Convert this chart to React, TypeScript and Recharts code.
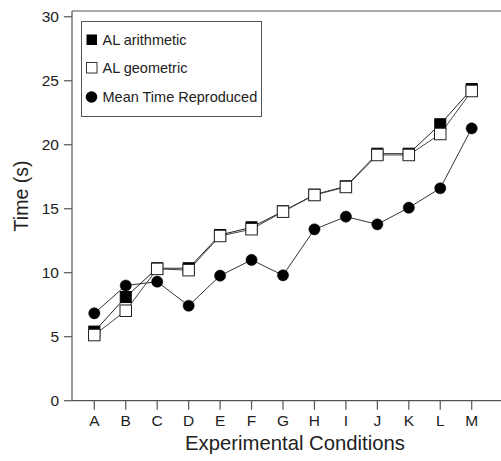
import React from 'react';
import { LineChart, Line, XAxis, YAxis, Legend, ReferenceLine } from 'recharts';

const categories = ['A', 'B', 'C', 'D', 'E', 'F', 'G', 'H', 'I', 'J', 'K', 'L', 'M'];
const alArithmetic = [5.4, 8.1, 10.35, 10.35, 12.95, 13.55, 14.8, 16.1, 16.75, 19.3, 19.3, 21.6, 24.35];
const alGeometric = [5.13, 7.03, 10.3, 10.2, 12.87, 13.4, 14.77, 16.07, 16.7, 19.2, 19.2, 20.84, 24.2];
const meanReproduced = [6.83, 9.0, 9.3, 7.42, 9.77, 11.0, 9.8, 13.39, 14.38, 13.78, 15.08, 16.6, 21.28];
const yTicks = [0, 5, 10, 15, 20, 25, 30];
const Y_MAX = 30.45;

const NAME_ARITH = 'AL arithmetic';
const NAME_GEOM = 'AL geometric';
const NAME_MEAN = 'Mean Time Reproduced';

const data = categories.map((c, i) => ({
  cat: c,
  arith: alArithmetic[i],
  geom: alGeometric[i],
  mean: meanReproduced[i],
}));

const FONT = '"Liberation Sans", Arial, sans-serif';
const AXIS = '#555';
const TEXT = '#222';

const BlackSquare = (props: any) => {
  const { cx, cy, index } = props;
  if (cx == null || cy == null) return null;
  const s = 11;
  return <rect key={`a${index}`} x={cx - s / 2} y={cy - s / 2} width={s} height={s} fill="#000" stroke="#000" strokeWidth={1} />;
};

const WhiteSquare = (props: any) => {
  const { cx, cy, index } = props;
  if (cx == null || cy == null) return null;
  const s = 11.5;
  return <rect key={`g${index}`} x={cx - s / 2} y={cy - s / 2} width={s} height={s} fill="#fff" stroke="#222" strokeWidth={1} />;
};

const BlackCircle = (props: any) => {
  const { cx, cy, index } = props;
  if (cx == null || cy == null) return null;
  return <circle key={`m${index}`} cx={cx} cy={cy} r={5.6} fill="#000" stroke="#000" strokeWidth={0.5} />;
};

const legendRows = [
  { name: NAME_ARITH, kind: 'bsq' },
  { name: NAME_GEOM, kind: 'wsq' },
  { name: NAME_MEAN, kind: 'circ' },
];

const LegendBox = () => (
  <div
    style={{
      position: 'absolute',
      left: 81,
      top: 21,
      width: 181,
      height: 96,
      border: '1px solid #555',
      boxSizing: 'border-box',
      background: '#fff',
      fontFamily: FONT,
      fontSize: 14.5,
      color: TEXT,
    }}
  >
    {legendRows.map((r, i) => (
      <div
        key={r.name}
        style={{
          position: 'absolute',
          left: 0,
          top: [17.7, 46, 74.8][i] - 10,
          height: 20,
          display: 'flex',
          alignItems: 'center',
          whiteSpace: 'nowrap',
        }}
      >
        <svg width={20} height={20} style={{ marginLeft: 0, display: 'block' }}>
          {r.kind === 'bsq' && <rect x={4.5} y={4.5} width={10.5} height={10.5} fill="#000" />}
          {r.kind === 'wsq' && <rect x={4.5} y={4.5} width={10.5} height={10.5} fill="#fff" stroke="#333" strokeWidth={1} />}
          {r.kind === 'circ' && <circle cx={9.5} cy={10} r={5.8} fill="#000" />}
        </svg>
        <span style={{ marginLeft: 0.5 }}>{r.name}</span>
      </div>
    ))}
  </div>
);

export default function App() {
  return (
    <div style={{ position: 'absolute', left: 0, top: 0, width: 501, height: 461, background: '#fff' }}>
      <LineChart
        width={501}
        height={461}
        data={data}
        margin={{ top: 11, right: 0, bottom: 0, left: 0 }}
      >
        <XAxis
          dataKey="cat"
          height={60.3}
          padding={{ left: 22.3, right: 29.3 }}
          axisLine={{ stroke: AXIS, strokeWidth: 1.2 }}
          tickLine={{ stroke: AXIS, strokeWidth: 1.2 }}
          tickSize={9}
          tickMargin={5}
          interval={0}
          tick={{ fill: TEXT, fontSize: 15.5, fontFamily: FONT }}
          label={(p: any) => (
            <text x={295} y={450} textAnchor="middle" fill={TEXT} fontSize={20.3} fontFamily={FONT}>
              Experimental Conditions
            </text>
          )}
        />
        <YAxis
          type="number"
          domain={[0, Y_MAX]}
          ticks={yTicks}
          width={72}
          axisLine={{ stroke: AXIS, strokeWidth: 1.2 }}
          tickLine={{ stroke: AXIS, strokeWidth: 1.2 }}
          tickSize={8}
          tickMargin={5}
          tick={{ fill: TEXT, fontSize: 15.5, fontFamily: FONT }}
          label={(p: any) => (
            <text
              x={20.5}
              y={196}
              textAnchor="middle"
              dominantBaseline="central"
              transform="rotate(-90 20.5 196)"
              fill={TEXT}
              fontSize={19.5}
              fontFamily={FONT}
            >
              Time (s)
            </text>
          )}
        />
        <ReferenceLine y={Y_MAX} stroke={AXIS} strokeWidth={1.2} ifOverflow="visible" />
        <Legend content={() => <LegendBox />} wrapperStyle={{ position: 'absolute', left: 0, top: 0, width: 0, height: 0 }} />
        <Line
          name={NAME_MEAN}
          dataKey="mean"
          stroke="#333"
          strokeWidth={1}
          dot={BlackCircle}
          activeDot={false}
          isAnimationActive={false}
        />
        <Line
          name={NAME_ARITH}
          dataKey="arith"
          stroke="#222"
          strokeWidth={1}
          dot={BlackSquare}
          activeDot={false}
          isAnimationActive={false}
        />
        <Line
          name={NAME_GEOM}
          dataKey="geom"
          stroke="#444"
          strokeWidth={1}
          dot={WhiteSquare}
          activeDot={false}
          isAnimationActive={false}
        />
      </LineChart>
    </div>
  );
}
